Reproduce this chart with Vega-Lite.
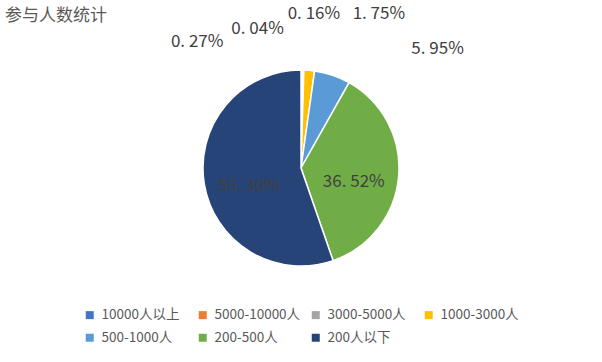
{
  "$schema": "https://vega.github.io/schema/vega-lite/v6.json",
  "width": 602,
  "height": 276,
  "autosize": "none",
  "padding": {"top": 30, "bottom": 56, "left": 0, "right": 0},
  "background": "white",
  "title": {"text": "参与人数统计", "anchor": "start", "dx": 5, "fontSize": 17, "fontWeight": "normal", "color": "#595959", "font": "Noto Sans CJK SC", "offset": -20},
  "config": {
    "view": {"stroke": null},
    "legend": {"layout": {"bottom": {"anchor": "middle"}}}
  },
  "data": {"values": [
    {"category": "10000人以上", "value": 0.27, "label": "0. 27%"},
    {"category": "5000-10000人", "value": 0.04, "label": "0. 04%"},
    {"category": "3000-5000人", "value": 0.16, "label": "0. 16%"},
    {"category": "1000-3000人", "value": 1.75, "label": "1. 75%"},
    {"category": "500-1000人", "value": 5.95, "label": "5. 95%"},
    {"category": "200-500人", "value": 36.52, "label": "36. 52%"},
    {"category": "200人以下", "value": 55.30, "label": "55. 30%"}
  ]},
  "transform": [{"window": [{"op": "row_number", "as": "idx"}]}],
  "layer": [
    {
      "layer": [
        {
          "mark": {"type": "arc", "outerRadius": 98, "stroke": "white", "strokeWidth": 1.5},
          "encoding": {
            "theta": {"field": "value", "type": "quantitative", "stack": true},
            "order": {"field": "idx", "type": "quantitative"},
            "color": {
              "field": "category", "type": "nominal",
              "scale": {
                "domain": ["10000人以上", "5000-10000人", "3000-5000人", "1000-3000人", "500-1000人", "200-500人", "200人以下"],
                "range": ["#4472C4", "#ED7D31", "#A5A5A5", "#FFC000", "#5B9BD5", "#70AD47", "#264478"]
              },
              "legend": {
                "orient": "bottom", "direction": "horizontal", "columns": 4, "title": null,
                "symbolType": "square", "symbolSize": 64, "symbolStrokeWidth": 0,
                "labelFontSize": 13.5, "labelFont": "Noto Sans CJK SC", "labelColor": "#595959",
                "labelOffset": 5, "columnPadding": 8, "rowPadding": 8, "gridAlign": "all",
                "offset": 2, "padding": 0, "labelLimit": 200
              }
            }
          }
        },
        {
          "mark": {"type": "text", "radius": 53, "dy": 9, "fontSize": 17, "font": "Noto Sans CJK SC", "color": "#404040"},
          "encoding": {
            "theta": {"field": "value", "type": "quantitative", "stack": true},
            "order": {"field": "idx", "type": "quantitative"},
            "detail": {"field": "category", "type": "nominal"},
            "text": {"condition": {"test": "datum.value > 10", "field": "label"}, "value": ""}
          }
        }
      ]
    },
    {
      "transform": [{"filter": "datum.value < 10"}],
      "mark": {"type": "text", "fontSize": 17, "font": "Noto Sans CJK SC", "color": "#404040", "align": "center", "baseline": "middle"},
      "encoding": {
        "theta": {
          "field": "category", "type": "nominal",
          "scale": {"type": "point", "domain": ["10000人以上", "5000-10000人", "3000-5000人", "1000-3000人", "500-1000人"], "range": [-0.688, 0.855], "padding": 0}
        },
        "radius": {
          "field": "category", "type": "nominal",
          "scale": {"type": "point", "domain": ["5000-10000人", "3000-5000人", "10000人以上", "1000-3000人", "500-1000人"], "range": [146, 181], "padding": 0}
        },
        "text": {"field": "label"}
      }
    }
  ],
  "resolve": {"scale": {"theta": "independent", "radius": "independent"}}
}
